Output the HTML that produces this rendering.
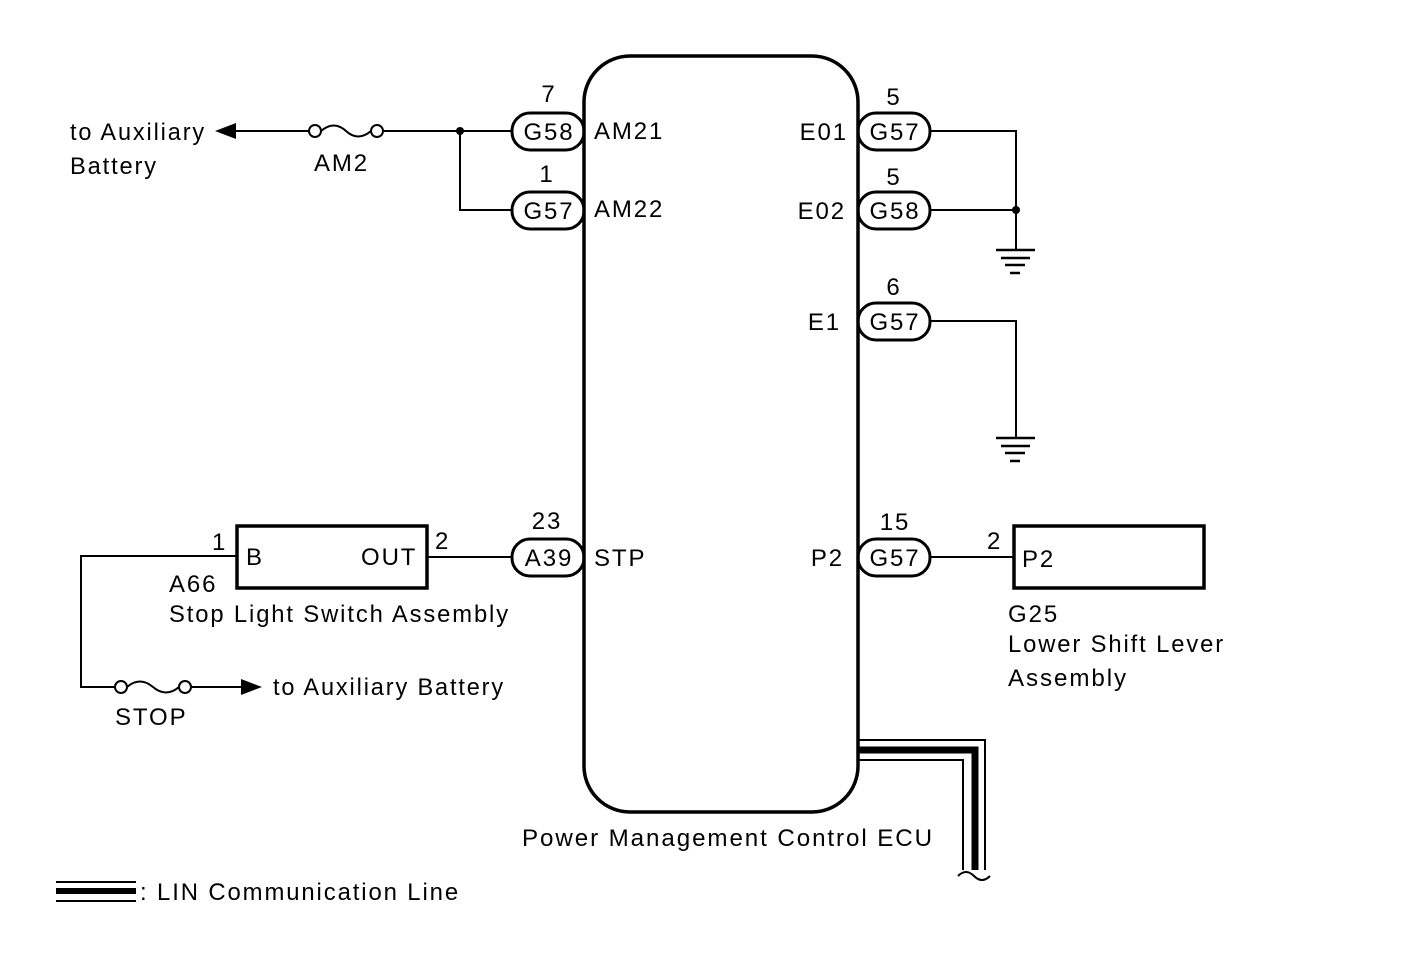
<!DOCTYPE html>
<html><head><meta charset="utf-8"><style>
html,body{margin:0;padding:0;background:#fff;}
svg{display:block;}
text{font-family:"Liberation Sans",Arial,sans-serif;font-size:24px;fill:#000;letter-spacing:1.9px;}
</style></head><body>
<svg width="1424" height="959" viewBox="0 0 1424 959" xmlns="http://www.w3.org/2000/svg">
<g fill="none" stroke="#000">
  <rect x="584" y="56" width="274" height="756" rx="46" ry="46" stroke-width="3.5"/>
  <rect x="512" y="113" width="72" height="37" rx="18" stroke-width="3"/>
  <rect x="512" y="192" width="72" height="37" rx="18" stroke-width="3"/>
  <rect x="512" y="539" width="72" height="37" rx="18" stroke-width="3"/>
  <rect x="858" y="113" width="72" height="37" rx="18" stroke-width="3"/>
  <rect x="858" y="192" width="72" height="37" rx="18" stroke-width="3"/>
  <rect x="858" y="303" width="72" height="37" rx="18" stroke-width="3"/>
  <rect x="858" y="539" width="72" height="37" rx="18" stroke-width="3"/>
  <g stroke-width="2">
    <line x1="232" y1="131" x2="309" y2="131"/>
    <circle cx="315" cy="131" r="6"/>
    <path d="M321 131 Q334 120 346 131 Q358 142 371 131"/>
    <circle cx="377" cy="131" r="6"/>
    <line x1="383" y1="131" x2="512" y2="131"/>
    <polyline points="460,131 460,210 512,210"/>
    <polyline points="930,131 1016,131 1016,250"/>
    <line x1="930" y1="210" x2="1016" y2="210"/>
    <polyline points="930,321 1016,321 1016,438"/>
    <line x1="427" y1="557" x2="512" y2="557"/>
    <polyline points="237,556 81,556 81,687 115,687"/>
    <circle cx="121" cy="687" r="6"/>
    <path d="M127 687 Q140 676 153 687 Q166 698 179 687"/>
    <circle cx="185" cy="687" r="6"/>
    <line x1="191" y1="687" x2="245" y2="687"/>
    <line x1="930" y1="557" x2="1014" y2="557"/>
  </g>
  <g stroke-width="2.5">
    <line x1="996" y1="250" x2="1035" y2="250"/>
    <line x1="1001" y1="258" x2="1030" y2="258"/>
    <line x1="1005" y1="265" x2="1025" y2="265"/>
    <line x1="1010" y1="273" x2="1020" y2="273"/>
    <line x1="996" y1="438" x2="1035" y2="438"/>
    <line x1="1001" y1="446" x2="1030" y2="446"/>
    <line x1="1005" y1="453" x2="1025" y2="453"/>
    <line x1="1010" y1="461" x2="1020" y2="461"/>
  </g>
  <rect x="237" y="526" width="190" height="62" stroke-width="3.5"/>
  <rect x="1014" y="526" width="190" height="62" stroke-width="3.5"/>
  <polyline points="858,740 985,740 985,870" stroke-width="2"/>
  <polyline points="858,750 975,750 975,870" stroke-width="7"/>
  <polyline points="858,760 963,760 963,870" stroke-width="2"/>
  <path d="M958 876 Q966 868 974 876 Q982 884 990 876" stroke-width="2"/>
  <line x1="56" y1="882" x2="136" y2="882" stroke-width="2"/>
  <line x1="56" y1="891" x2="136" y2="891" stroke-width="6"/>
  <line x1="56" y1="901" x2="136" y2="901" stroke-width="2"/>
</g>
<circle cx="460" cy="131" r="4" fill="#000"/>
<circle cx="1016" cy="210" r="4" fill="#000"/>
<polygon points="215,131 236,123 236,139" fill="#000"/>
<polygon points="262,687 241,679 241,695" fill="#000"/>
<g text-anchor="middle">
  <text x="549" y="140">G58</text>
  <text x="549" y="219">G57</text>
  <text x="549" y="566">A39</text>
  <text x="895" y="140">G57</text>
  <text x="895" y="219">G58</text>
  <text x="895" y="330">G57</text>
  <text x="895" y="566">G57</text>
  <text x="549" y="102">7</text>
  <text x="547" y="182">1</text>
  <text x="547" y="529">23</text>
  <text x="894" y="105">5</text>
  <text x="894" y="185">5</text>
  <text x="894" y="295">6</text>
  <text x="895" y="530">15</text>
</g>
<text x="594" y="139">AM21</text>
<text x="594" y="217">AM22</text>
<text x="594" y="566">STP</text>
<g text-anchor="end">
  <text x="848" y="140">E01</text>
  <text x="846" y="219">E02</text>
  <text x="841" y="330">E1</text>
  <text x="844" y="566">P2</text>
</g>
<text x="70" y="140" textLength="136" lengthAdjust="spacingAndGlyphs">to Auxiliary</text>
<text x="70" y="174" textLength="88" lengthAdjust="spacingAndGlyphs">Battery</text>
<text x="314" y="171">AM2</text>
<text x="212" y="550">1</text>
<text x="246" y="565">B</text>
<text x="361" y="565">OUT</text>
<text x="435" y="549">2</text>
<text x="169" y="592">A66</text>
<text x="169" y="622" textLength="341" lengthAdjust="spacingAndGlyphs">Stop Light Switch Assembly</text>
<text x="273" y="695" textLength="232" lengthAdjust="spacingAndGlyphs">to Auxiliary Battery</text>
<text x="115" y="725">STOP</text>
<text x="987" y="549">2</text>
<text x="1022" y="567">P2</text>
<text x="1008" y="622">G25</text>
<text x="1008" y="652" textLength="217" lengthAdjust="spacingAndGlyphs">Lower Shift Lever</text>
<text x="1008" y="686" textLength="120" lengthAdjust="spacingAndGlyphs">Assembly</text>
<text x="522" y="846" textLength="412" lengthAdjust="spacingAndGlyphs">Power Management Control ECU</text>
<text x="140" y="900" textLength="320" lengthAdjust="spacingAndGlyphs">: LIN Communication Line</text>
</svg>
</body></html>
